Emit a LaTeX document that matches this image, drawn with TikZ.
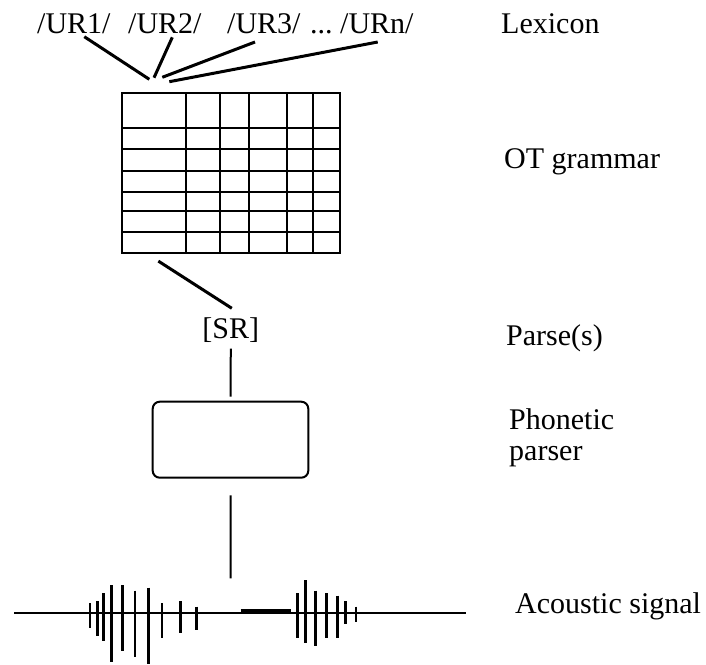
\documentclass[tikz,border=0pt]{standalone}
\usepackage{fontspec}
\setmainfont{Liberation Serif}
\usetikzlibrary{calc}
\tikzset{
  lbl/.style={anchor=base west, inner sep=0pt, font=\fontsize{30}{31}\selectfont},
  link/.style={line width=3pt},
  grid/.style={line width=2.2pt},
  stem/.style={line width=2pt},
  bar/.style={line width=2.4pt},
}
\begin{document}
\begin{tikzpicture}[x=1pt, y=-1pt]
\useasboundingbox (0,0) rectangle (706,664);

% lexicon entries
\node[lbl] (ur1) at (37,33) {/UR1/};
\node[lbl] (ur2) at (128,33) {/UR2/};
\node[lbl] (ur3) at (227,33) {/UR3/};
\node[lbl] (dots) at (310,33) {...};
\node[lbl] (urn) at (340,33) {/URn/};

% right-hand labels
\node[lbl] (lexicon) at (501,33) {Lexicon};
\node[lbl] (otg) at (504,168.3) {OT grammar};
\node[lbl] (parses) at (506,345) {Parse(s)};
\node[lbl] (phon) at (509,429.3) {Phonetic};
\node[lbl] (phon2) at (509,460) {parser};
\node[lbl] (acoustic) at (515,613.3) {Acoustic signal};

% OT tableau
\node[grid, draw, minimum width=218.3pt, minimum height=160pt, inner sep=0pt] (grammar) at (230.85,172.7) {};
\foreach \x in {185.7,220.3,249.3,286.7,313.3}
  \draw[grid] (\x,92.7) -- (\x,252.7);
\foreach \y in {127.7,149,170.7,192.3,211.3,232}
  \draw[grid] (121.7,\y) -- (340,\y);

% links from the lexicon into the grammar
\coordinate (e1) at (149.3,79.3);
\coordinate (e2) at (154,77.7);
\coordinate (e3) at (162.3,77.3);
\coordinate (e4) at (169.3,81.7);
\draw[link] ($(ur1.base west)+(47.3,3.7)$) -- (e1);
\draw[link] ($(ur2.base west)+(44.3,4.3)$) -- (e2);
\draw[link] ($(ur3.base west)+(28,9)$) -- (e3);
\draw[link] ($(urn.base west)+(37.7,9)$) -- (e4);

% surface representation
\node[inner sep=0pt, anchor=base, font=\fontsize{30}{31}\selectfont] (sr) at (230.8,338.3) {[SR]};
\draw[link] ($(grammar.south)+(-72.5,7.3)$) -- ($(sr.north)+(1,-9)$);

% phonetic parser
\node[draw, stem, rounded corners=7pt, minimum width=155.6pt, minimum height=76pt, inner sep=0pt] (parser) at (230.5,439.7) {};
\draw[stem] ($(sr.south)+(0,6)$) -- ($(parser.north)+(0,-4)$);
\coordinate (sig) at (230.7,578.3);
\draw[stem] ($(parser.south)+(0,16.6)$) -- (sig);

% acoustic waveform
\draw[line width=1.8pt] (14.3,612.7) -- (466,612.7);
\draw[line width=2.8pt] (240.7,610.4) -- (290.7,610.4);
\foreach \x/\t/\b in {
  270/130/203, 293/123/227, 310/100/242, 335/75/305, 367/75/273,
  405/92/290, 446/83/312, 486/130/235, 541/123/218, 589/140/211,
  892/100/235, 916/60/250, 947/92/258, 980/100/235, 1012/107/235,
  1036/123/193, 1068/140/186}
  \draw[bar] (\x/3, 560+\t/3) -- (\x/3, 560+\b/3);
\end{tikzpicture}
\end{document}
